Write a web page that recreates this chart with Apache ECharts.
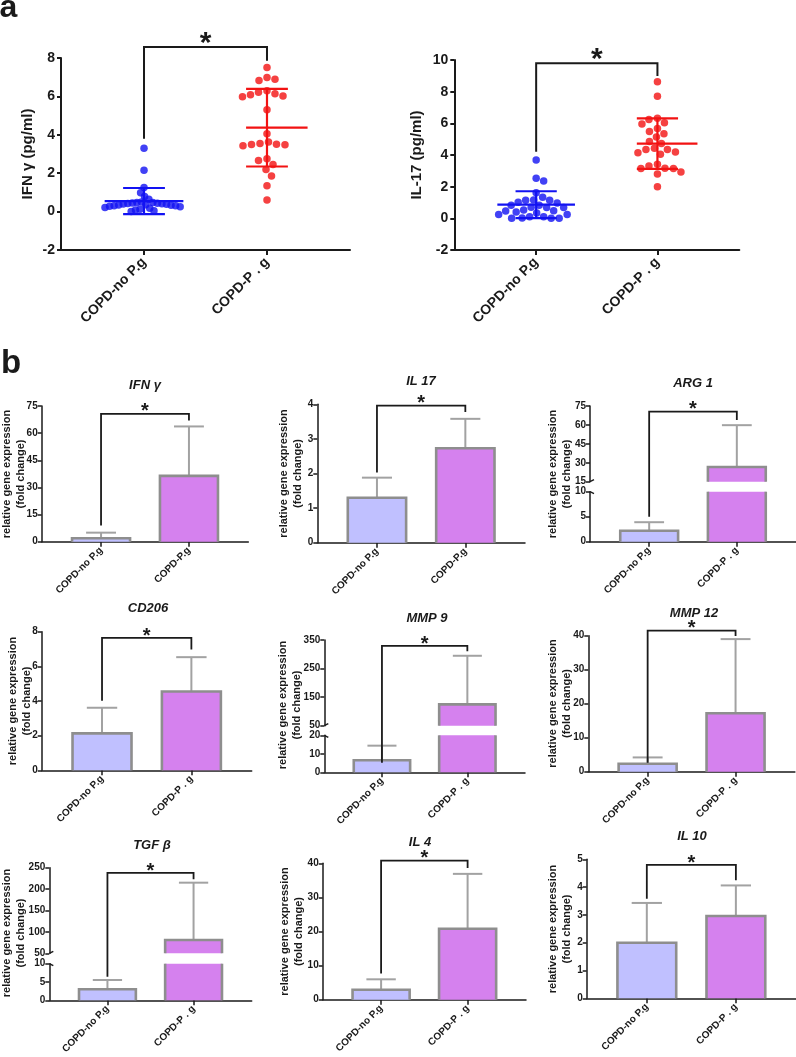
<!DOCTYPE html>
<html>
<head>
<meta charset="utf-8">
<script src="https://cdn.jsdelivr.net/npm/echarts@6/dist/echarts.min.js"></script>
<style>
html, body { margin: 0; padding: 0; background: #fff; }
#main { width: 796px; height: 1057px; }
</style>
</head>
<body>
<div id="main"></div>
<script>
// ---- panel a data (pg/ml) ----
var groups = ['COPD-no P.g', 'COPD-P . g'];
var ifnNoPg = [3.30, 2.15, 1.25, 0.98, 0.78, 0.64, 0.50, 0.48, 0.47, 0.45, 0.44, 0.42, 0.41, 0.40,
  0.38, 0.36, 0.35, 0.33, 0.31, 0.30, 0.28, 0.25, 0.22, 0.18, 0.12, 0.08, 0.04, 0.00];
var ifnPg = [7.50, 6.99, 6.89, 6.83, 6.30, 6.21, 6.14, 6.09, 6.02, 5.98, 5.30, 4.05, 3.63, 3.55,
  3.51, 3.50, 3.48, 3.43, 2.75, 2.66, 2.45, 2.19, 1.86, 1.34, 0.61];
var il17NoPg = [3.68, 2.53, 2.36, 1.62, 1.33, 1.16, 1.14, 1.14, 1.01, 0.97, 0.82, 0.82, 0.70, 0.69,
  0.69, 0.53, 0.48, 0.46, 0.40, 0.34, 0.25, 0.25, 0.10, 0.10, 0.02, 0.00, 0.00, 0.00];
var il17Pg = [8.63, 7.71, 6.32, 6.25, 6.04, 5.96, 5.68, 5.49, 5.35, 5.14, 4.86, 4.72, 4.42, 4.34,
  4.34, 4.19, 4.15, 4.04, 3.41, 3.31, 3.16, 3.14, 3.14, 2.93, 2.80, 2.00];
var ifnMean = [0.55, 4.37];
var ifnSd = [0.68, 2.02];
var il17Mean = [0.86, 4.72];
var il17Sd = [0.85, 1.59];
var ifnBracket = [3.8, 8.57, 7.86];     // left leg end, top, right leg end
var il17Bracket = [4.2, 9.79, 8.99];
var ifnTicks = [-2, 0, 2, 4, 6, 8];
var il17Ticks = [-2, 0, 2, 4, 6, 8, 10];

// ---- panel b data (fold change) ----
var genes = ['IFN γ', 'IL 17', 'ARG 1', 'CD206', 'MMP 9', 'MMP 12', 'TGF β', 'IL 4', 'IL 10'];
var pgLabels = ['COPD-P.g', 'COPD-P.g', 'COPD-P . g', 'COPD-P . g', 'COPD-P . g', 'COPD-P . g',
  'COPD-P . g', 'COPD-P . g', 'COPD-P . g'];
var meanNoPg = [1.9, 1.30, 2.2, 2.13, 6.5, 2.35, 3.0, 2.93, 2.0];
var sdNoPg = [3.1, 0.58, 1.7, 1.48, 7.9, 1.85, 2.55, 3.05, 1.43];
var meanPg = [36.4, 2.73, 26.7, 4.55, 124.8, 17.2, 81, 20.8, 2.96];
var sdPg = [27.3, 0.85, 33.1, 1.98, 170, 21.8, 134, 16.1, 1.10];
var geneBrackets = [[8.9, 70.7, 67], [2.03, 3.96, 3.78], [5.0, 70.6, 64], [4.01, 7.64, 6.97],
  [5.2, 329.7, 311], [2.6, 41.5, 39.9], [6.45, 238, 223], [7.7, 40.8, 38.6], [3.58, 4.80, 4.25]];
var geneTicksLow = [[0, 15, 30, 45, 60, 75], [0, 1, 2, 3, 4], [0, 5, 10], [0, 2, 4, 6, 8],
  [0, 10, 20], [0, 10, 20, 30, 40], [0, 5, 10], [0, 10, 20, 30, 40], [0, 1, 2, 3, 4, 5]];
var geneTicksHigh = [null, null, [15, 30, 45, 60, 75], null, [50, 150, 250, 350], null,
  [50, 100, 150, 200, 250], null, null];

// ---- styles and layout ----
var BLUE = '#1212f2', RED = '#f21212', LAV = '#c0c0ff', VIO = '#d581ee';
var EDGE = '#8e8e8e', ERR = '#a2a2a2', INK = '#1a1a1a';
var FONT = "'Liberation Sans', Arial, Helvetica, sans-serif";
var X_MIN = 0.325, X_MAX = 2.675;

var aCells = [
  { left: 61, top: 58, width: 289, height: 192, name: [28, 154], title: 'IFN γ (pg/ml)' },
  { left: 454.3, top: 60, width: 285, height: 190, name: [417, 155], title: 'IL-17 (pg/ml)' }
];
var bCells = [
  { left: 41.7, width: 206.6, top: 406, bottom: 541.7, name: [13.5, 474], title: [145, 385] },
  { left: 317.3, width: 207.7, top: 404.3, bottom: 542.7, name: [291, 473.5], title: [421, 381] },
  { left: 590, width: 206.7, top: 406, bottom: 541.7, cut: [481.7, 491.7], name: [560.3, 474], title: [693, 383] },
  { left: 41.7, width: 210, top: 631.7, bottom: 770.3, name: [19.7, 701], title: [148, 608] },
  { left: 324.3, width: 200.7, top: 640, bottom: 772.3, cut: [725.7, 735.3], name: [290.3, 705], title: [427, 618] },
  { left: 588.3, width: 206.6, top: 635.7, bottom: 771.7, name: [559.7, 703.5], title: [694, 613] },
  { left: 49.3, width: 202.4, top: 867.7, bottom: 1000.3, cut: [953.3, 963.7], name: [13.7, 933], title: [152, 845] },
  { left: 322.7, width: 203.3, top: 863.3, bottom: 999.7, name: [292, 931.5], title: [420, 842] },
  { left: 586.7, width: 209.5, top: 859.3, bottom: 998.3, name: [559.7, 929], title: [692, 836] }
];

var grids = [], xAxes = [], yAxes = [], series = [];

function addGrid(rect, xOpt, yOpt) {
  var i = grids.length;
  grids.push(rect);
  xAxes.push(Object.assign({ gridIndex: i, type: 'value', min: X_MIN, max: X_MAX, splitLine: { show: false } }, xOpt));
  yAxes.push(Object.assign({ gridIndex: i, type: 'value', splitLine: { show: false } }, yOpt));
  return i;
}

function catX(labels, size, margin, lw) {
  return {
    axisLine: { show: true, onZero: false, lineStyle: { color: INK, width: lw } },
    axisTick: { show: true, customValues: [1, 2], length: 5, lineStyle: { color: INK, width: lw } },
    axisLabel: {
      customValues: [1, 2], rotate: 45, margin: margin,
      formatter: function (v) { return labels[Math.round(v) - 1]; },
      fontFamily: FONT, fontWeight: 'bold', fontSize: size, color: INK
    }
  };
}

function valY(ticks, size, lw, margin) {
  return {
    min: ticks[0], max: ticks[ticks.length - 1],
    axisLine: { show: true, onZero: false, lineStyle: { color: INK, width: lw } },
    axisTick: { show: true, customValues: ticks, length: 4, lineStyle: { color: INK, width: lw } },
    axisLabel: { customValues: ticks, margin: margin, fontFamily: FONT, fontWeight: 'bold', fontSize: size, color: INK }
  };
}

function seg(a, b) { return { x1: a[0], y1: a[1], x2: b[0], y2: b[1] }; }

// beeswarm offsets (in x units) so dots do not overlap; squeezed to a max half width
function swarm(values, pxY, pxX, d, maxHalf) {
  var placed = [];
  var xs = values.map(function (v, k) {
    var y = v * pxY, x = 0, found = false;
    for (var s = 0; !found; s += 0.5) {
      var cands = k % 2 ? [-s, s] : [s, -s];
      for (var c = 0; c < 2 && !found; c++) {
        var ok = placed.every(function (p) {
          var dx = p[0] - cands[c], dy = p[1] - y;
          return dx * dx + dy * dy >= d * d;
        });
        if (ok) { x = cands[c]; found = true; }
      }
    }
    placed.push([x, y]);
    return x;
  });
  var widest = Math.max.apply(null, xs.map(Math.abs));
  var k = widest > maxHalf ? maxHalf / widest : 1;
  return xs.map(function (x) { return x * k / pxX; });
}

function meanSdItem(params, api) {
  var x = api.value(0), m = api.value(1), s = api.value(2);
  var color = params.dataIndex === 0 ? BLUE : RED;
  var ext = params.dataIndex === 0 ? [-0.32, 0.32] : [-0.17, 0.33];
  var p = function (dx, y) { return api.coord([x + dx, y]); };
  var st = { stroke: color, lineWidth: 2.2 };
  return {
    type: 'group', children: [
      { type: 'line', shape: seg(p(ext[0], m), p(ext[1], m)), style: st },
      { type: 'line', shape: seg(p(0, m - s), p(0, m + s)), style: st },
      { type: 'line', shape: seg(p(-0.17, m + s), p(0.17, m + s)), style: st },
      { type: 'line', shape: seg(p(-0.17, m - s), p(0.17, m - s)), style: st }
    ]
  };
}

function barItem(lo, hi) {
  return function (params, api) {
    var x = api.value(0), m = api.value(1), s = api.value(2);
    var fill = params.dataIndex === 0 ? LAV : VIO;
    var kids = [];
    var e0 = Math.max(m, lo), e1 = Math.min(m + s, hi);
    if (m <= hi && e1 > e0) {
      var st = { stroke: ERR, lineWidth: 2 };
      kids.push({ type: 'line', shape: seg(api.coord([x, e0]), api.coord([x, e1])), style: st });
      if (m + s <= hi) kids.push({ type: 'line', shape: seg(api.coord([x - 0.17, m + s]), api.coord([x + 0.17, m + s])), style: st });
    }
    if (m > lo) {
      var top = Math.min(m, hi);
      var bl = api.coord([x - 0.33, lo]), tr = api.coord([x + 0.33, top]);
      kids.push({ type: 'rect', shape: { x: bl[0], y: tr[1], width: tr[0] - bl[0], height: bl[1] - tr[1] }, style: { fill: fill } });
      var es = { stroke: EDGE, lineWidth: 2.6, fill: null };
      if (m <= hi) {
        kids.push({ type: 'polyline', shape: { points: [[bl[0], bl[1]], [bl[0], tr[1]], [tr[0], tr[1]], [tr[0], bl[1]]] }, style: es });
      } else {
        kids.push({ type: 'line', shape: seg([bl[0], bl[1]], [bl[0], tr[1]]), style: es });
        kids.push({ type: 'line', shape: seg([tr[0], bl[1]], [tr[0], tr[1]]), style: es });
      }
    }
    return { type: 'group', children: kids };
  };
}

// ---- panel a ----
var aSets = [
  { noPg: ifnNoPg, pg: ifnPg, mean: ifnMean, sd: ifnSd, ticks: ifnTicks },
  { noPg: il17NoPg, pg: il17Pg, mean: il17Mean, sd: il17Sd, ticks: il17Ticks }
];
aCells.forEach(function (c, i) {
  var d = aSets[i];
  var g = addGrid({ left: c.left, top: c.top, width: c.width, height: c.height },
    catX(groups, 14, 10, 2), valY(d.ticks, 14, 2, 6));
  c.grid = g;
  var pxY = c.height / (d.ticks[d.ticks.length - 1] - d.ticks[0]);
  var pxX = c.width / (X_MAX - X_MIN);
  var offA = swarm(d.noPg, pxY, pxX, 7.6, 39);
  var offB = swarm(d.pg, pxY, pxX, 8.2, 39);
  series.push({
    type: 'scatter', xAxisIndex: g, yAxisIndex: g, symbolSize: 7.5, z: 2,
    itemStyle: { color: BLUE },
    data: d.noPg.map(function (v, k) { return [1 + offA[k], v]; })
  });
  series.push({
    type: 'scatter', xAxisIndex: g, yAxisIndex: g, symbolSize: 7.5, z: 2,
    itemStyle: { color: RED },
    data: d.pg.map(function (v, k) { return [2 + offB[k], v]; })
  });
  series.push({
    type: 'custom', xAxisIndex: g, yAxisIndex: g, z: 3, renderItem: meanSdItem,
    data: [[1, d.mean[0], d.sd[0]], [2, d.mean[1], d.sd[1]]]
  });
});

// ---- panel b ----
bCells.forEach(function (c, i) {
  var lowT = geneTicksLow[i], highT = geneTicksHigh[i];
  var labels = [groups[0], pgLabels[i]];
  var data = [[1, meanNoPg[i], sdNoPg[i]], [2, meanPg[i], sdPg[i]]];
  var lowTop = c.cut ? c.cut[1] : c.top;
  c.low = addGrid({ left: c.left, top: lowTop, width: c.width, height: c.bottom - lowTop },
    catX(labels, 10, 7, 1.5), valY(lowT, 10, 1.5, 4));
  series.push({ type: 'custom', xAxisIndex: c.low, yAxisIndex: c.low, z: 3, data: data,
    renderItem: barItem(lowT[0], lowT[lowT.length - 1]) });
  if (c.cut) {
    c.high = addGrid({ left: c.left, top: c.top, width: c.width, height: c.cut[0] - c.top },
      { show: false }, valY(highT, 10, 1.5, 4));
    series.push({ type: 'custom', xAxisIndex: c.high, yAxisIndex: c.high, z: 3, data: data,
      renderItem: barItem(highT[0], highT[highT.length - 1]) });
  }
});

var chart = echarts.init(document.getElementById('main'));
chart.setOption({
  animation: false,
  backgroundColor: '#fff',
  grid: grids, xAxis: xAxes, yAxis: yAxes, series: series
});

// ---- annotations placed through the axes ----
function px(g, x, y) { return chart.convertToPixel({ gridIndex: g }, [x, y]); }
function txt(x, y, text, font, rot, align) {
  return { type: 'text', x: x, y: y, rotation: rot || 0, z: 10,
    style: { text: text, font: font, fill: INK, align: align || 'center', verticalAlign: 'middle', lineHeight: 14 } };
}
function bracket(pts, lw) {
  return { type: 'polyline', z: 10, shape: { points: pts }, style: { stroke: INK, lineWidth: lw, fill: null } };
}

var gfx = [];
gfx.push(txt(-0.5, 8, 'a', 'bold 32px ' + FONT, 0, 'left'));
gfx.push(txt(1, 364, 'b', 'bold 33px ' + FONT, 0, 'left'));

[ifnBracket, il17Bracket].forEach(function (b, i) {
  var c = aCells[i], g = c.grid;
  var p = [px(g, 1, b[0]), px(g, 1, b[1]), px(g, 2, b[1]), px(g, 2, b[2])];
  gfx.push(bracket(p, 2));
  gfx.push(txt((p[1][0] + p[2][0]) / 2, p[1][1] - 9.5 + 6.3, '*', 'bold 30px ' + FONT));
  gfx.push(txt(c.name[0], c.name[1], c.title, 'bold 15px ' + FONT, Math.PI / 2));
});

bCells.forEach(function (c, i) {
  var b = geneBrackets[i];
  var gOf = function (v) { return c.cut && v >= geneTicksHigh[i][0] ? c.high : c.low; };
  var p = [px(gOf(b[0]), 1, b[0]), px(gOf(b[1]), 1, b[1]), px(gOf(b[1]), 2, b[1]), px(gOf(b[2]), 2, b[2])];
  gfx.push(bracket(p, 1.8));
  gfx.push(txt((p[1][0] + p[2][0]) / 2, p[1][1] - 6 + 4.2, '*', 'bold 20px ' + FONT));
  gfx.push(txt(c.title[0], c.title[1], genes[i], 'italic bold 13px ' + FONT));
  gfx.push(txt(c.name[0], c.name[1], 'relative gene expression\n(fold change)', 'bold 11px ' + FONT, Math.PI / 2));
  if (c.cut) {
    var hiT = geneTicksHigh[i], loT = geneTicksLow[i];
    var a = px(c.high, X_MIN, hiT[0]), z = px(c.low, X_MIN, loT[loT.length - 1]);
    gfx.push({ type: 'line', z: 10, shape: { x1: a[0], y1: a[1], x2: a[0] + 4, y2: a[1] - 2 }, style: { stroke: INK, lineWidth: 1.5 } });
    gfx.push({ type: 'line', z: 10, shape: { x1: z[0], y1: z[1], x2: z[0] + 4, y2: z[1] + 2 }, style: { stroke: INK, lineWidth: 1.5 } });
  }
});

chart.setOption({ graphic: gfx });
</script>
</body>
</html>
